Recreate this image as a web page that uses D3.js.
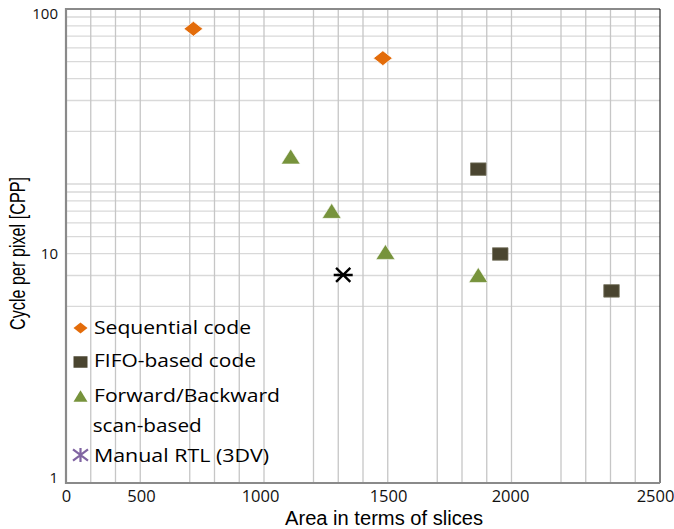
<!DOCTYPE html>
<html>
<head>
<meta charset="utf-8">
<script src="https://cdn.jsdelivr.net/npm/d3@7"></script>
<style>
  html, body { margin: 0; padding: 0; background: #fff; }
  svg { display: block; }
</style>
</head>
<body>
<svg id="chart" width="674" height="529"></svg>
<script>
// ---------------- data ----------------
const seriesNames = ["Sequential code", "FIFO-based code", "Forward/Backward scan-based", "Manual RTL (3DV)"];
const seqX  = [720, 1480];
const seqY  = [83, 63];
const fifoX = [1870, 1960, 2350];
const fifoY = [22.2, 10, 6.9];
const fbX   = [1120, 1280, 1490, 1870];
const fbY   = [25, 15, 10.2, 8.1];
const rtlX  = [1325];
const rtlY  = [8.1];
const xTicks = [0, 500, 1000, 1500, 2000, 2500];
const yTicks = [1, 10, 100];
// grid values as drawn in the picture (minor grid of the original chart)
const xGridValues = [200,300,400,600,700,800,900,1100,1200,1300,1400,1600,1700,1800,1900,2100,2200,2300,2400];
const yGridValues = [2,3,4,5,6,7,8,9,10,20,30,40,50,60,70,80,90];

// ---------------- layout ----------------
const svg = d3.select("#chart");
const L = 66, R = 660, T = 9, B = 483;

const x = d3.scaleLinear().domain(xTicks).range([66, 141, 260, 388, 510, 655]);
const y = d3.scaleLog().domain(yTicks).range([483, 254, 9]);
const xGrid = d3.scaleLinear().domain([100, 2500]).range([L, R]);
const yGrid = d3.scaleLog().domain([1, 100]).range([359, T]);

svg.append("rect").attr("width", 674).attr("height", 529).attr("fill", "#fff");

// grid
const g = svg.append("g");
g.selectAll("line.hg").data(yGridValues).join("line")
  .attr("x1", L).attr("x2", R)
  .attr("y1", d => yGrid(d)).attr("y2", d => yGrid(d))
  .attr("stroke", "#d9d9d9").attr("stroke-width", 1.3);
g.selectAll("line.vg").data(xGridValues).join("line")
  .attr("x1", d => xGrid(d)).attr("x2", d => xGrid(d))
  .attr("y1", T).attr("y2", B)
  .attr("stroke", "#c6c6c6").attr("stroke-width", 1.3);

// frame
svg.append("line").attr("x1", L).attr("x2", R).attr("y1", T).attr("y2", T).attr("stroke", "#8a8a8a").attr("stroke-width", 2);
svg.append("line").attr("x1", R).attr("x2", R).attr("y1", T).attr("y2", B).attr("stroke", "#000").attr("stroke-width", 1);

// axes
const xAxis = svg.append("g").attr("transform", `translate(0,${B})`)
  .call(d3.axisBottom(x).tickValues(xTicks).tickSize(0).tickFormat(d3.format("d")));
xAxis.select(".domain").remove();
xAxis.selectAll("text").attr("y", 19).attr("dy", 0)
  .attr("font-family", "'Open Sans', sans-serif").attr("font-size", 16.5).attr("fill", "#111");

const yAxis = svg.append("g").attr("transform", `translate(${L},0)`)
  .call(d3.axisLeft(y).tickValues(yTicks).tickSize(0).tickPadding(8).tickFormat(d3.format("d")));
yAxis.select(".domain").remove();
yAxis.selectAll("text")
  .attr("font-family", "'Open Sans', sans-serif").attr("font-size", 15).attr("fill", "#111")
  .attr("transform", d => d === 100 ? "translate(0,5)" : (d === 1 ? "translate(0,-5)" : null));

svg.append("line").attr("x1", L).attr("x2", L).attr("y1", T - 1).attr("y2", B + 1).attr("stroke", "#8a8a8a").attr("stroke-width", 2.2);
svg.append("line").attr("x1", L - 1).attr("x2", R).attr("y1", B).attr("y2", B).attr("stroke", "#8a8a8a").attr("stroke-width", 2.2);

// axis titles
svg.append("text").text("Area in terms of slices")
  .attr("x", 384).attr("y", 524.5).attr("text-anchor", "middle")
  .attr("font-family", "'Liberation Sans Narrow','Arial Narrow','Liberation Sans',sans-serif")
  .attr("font-size", 20).attr("fill", "#000")
  .attr("textLength", 198).attr("lengthAdjust", "spacingAndGlyphs");
svg.append("text").text("Cycle per pixel [CPP]")
  .attr("transform", "translate(25,253.5) rotate(-90)").attr("text-anchor", "middle")
  .attr("font-family", "'Liberation Sans Narrow','Arial Narrow','Liberation Sans',sans-serif")
  .attr("font-size", 22).attr("fill", "#000")
  .attr("textLength", 153).attr("lengthAdjust", "spacingAndGlyphs");

// ---------------- marker shapes ----------------
const diamond = (w, h) => `M0,${-h/2}L${w/2},0L0,${h/2}L${-w/2},0Z`;
const square = (w, h) => `M${-w/2},${-h/2}H${w/2}V${h/2}H${-w/2}Z`;
const triangle = (w, h) => `M0,${-h/2}L${w/2},${h/2}L${-w/2},${h/2}Z`;
const starH = (w, h) => `M${-w/2*0.75},${-h/2}L${w/2*0.75},${h/2}M${w/2*0.75},${-h/2}L${-w/2*0.75},${h/2}M${-w/2},0H${w/2}`;
const starV = (w, h) => `M${-w/2},${-h/2*0.8}L${w/2},${h/2*0.8}M${w/2},${-h/2*0.8}L${-w/2},${h/2*0.8}M0,${-h/2}V${h/2}`;

const COL_SEQ = "#e36c0a", COL_FIFO = "#4a4530", COL_FB = "#77933c", COL_RTL = "#8064a2";

const pts = (xs, ys) => xs.map((v, i) => ({ x: v, y: ys[i] }));
const plot = svg.append("g");

plot.selectAll("path.seq").data(pts(seqX, seqY)).join("path")
  .attr("d", diamond(19, 15))
  .attr("transform", d => `translate(${x(d.x)},${y(d.y)})`)
  .attr("fill", COL_SEQ).attr("stroke", "#fff").attr("stroke-width", 0.8);

plot.selectAll("path.fifo").data(pts(fifoX, fifoY)).join("path")
  .attr("d", square(15.5, 12.5))
  .attr("transform", d => `translate(${x(d.x)},${y(d.y)})`)
  .attr("fill", COL_FIFO).attr("stroke", "#77735f").attr("stroke-width", 0.8);

plot.selectAll("path.fb").data(pts(fbX, fbY)).join("path")
  .attr("d", triangle(19, 15))
  .attr("transform", d => `translate(${x(d.x)},${y(d.y)})`)
  .attr("fill", COL_FB).attr("stroke", "#fff").attr("stroke-width", 0.6);

plot.selectAll("path.rtl").data(pts(rtlX, rtlY)).join("path")
  .attr("d", starH(19, 14))
  .attr("transform", d => `translate(${x(d.x)},${y(d.y)})`)
  .attr("fill", "none").attr("stroke", "#000").attr("stroke-width", 2.4);

// ---------------- legend ----------------
const legend = svg.append("g");
const legendMarkers = [
  { d: diamond(14, 11), fill: COL_SEQ, stroke: "none", cy: 328 },
  { d: square(14, 11.5), fill: COL_FIFO, stroke: "none", cy: 362 },
  { d: triangle(14, 11.5), fill: COL_FB, stroke: "none", cy: 396 },
  { d: starV(15, 14), fill: "none", stroke: COL_RTL, cy: 455 }
];
legendMarkers.forEach((m, i) => {
  legend.append("path").attr("d", m.d).attr("transform", `translate(80.5,${m.cy})`)
    .attr("fill", m.fill).attr("stroke", m.stroke).attr("stroke-width", m.stroke === "none" ? 0 : 2.2);
});
const legendLines = [
  { t: seriesNames[0], y: 334, w: 157 },
  { t: seriesNames[1], y: 367, w: 162 },
  { t: seriesNames[2].split(" ")[0], y: 402, w: 186 },
  { t: seriesNames[2].split(" ")[1], y: 432, w: 109, x: 92.7 },
  { t: seriesNames[3], y: 462, w: 175 }
];
legend.selectAll("text").data(legendLines).join("text")
  .text(d => d.t)
  .attr("x", d => d.x || 94).attr("y", d => d.y)
  .attr("font-family", "'Open Sans', sans-serif").attr("font-size", 18).attr("fill", "#000")
  .attr("textLength", d => d.w).attr("lengthAdjust", "spacingAndGlyphs");
</script>
</body>
</html>
